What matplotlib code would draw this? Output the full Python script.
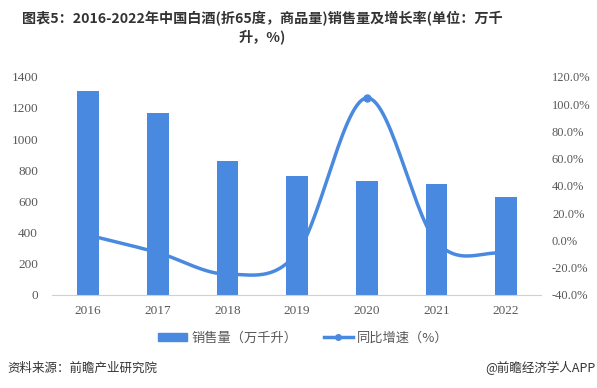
import numpy as np
import matplotlib
matplotlib.use('Agg')
import matplotlib.pyplot as plt
from matplotlib.lines import Line2D
from matplotlib.patches import Patch

plt.rcParams['font.family'] = ['Noto Sans CJK SC', 'DejaVu Sans']

years = ['2016', '2017', '2018', '2019', '2020', '2021', '2022']
sales = [1309, 1168, 860, 763, 731, 710, 628]
growth = [3.9, -9.0, -24.8, -9.0, 104.5, -1.0, -9.6]

blue = '#4a89e0'
grey = '#595959'


def smooth(x, y, n=30):
    # Catmull-Rom curve through the points, like Excel's smoothed line
    x = np.asarray(x, float)
    y = np.asarray(y, float)
    px = np.concatenate([[2 * x[0] - x[1]], x, [2 * x[-1] - x[-2]]])
    py = np.concatenate([[2 * y[0] - y[1]], y, [2 * y[-1] - y[-2]]])
    xs, ys = [], []
    t = np.linspace(0, 1, n)
    for i in range(1, len(px) - 2):
        for p, out in ((px, xs), (py, ys)):
            p0, p1, p2, p3 = p[i - 1], p[i], p[i + 1], p[i + 2]
            out.extend(0.5 * (2 * p1 + (-p0 + p2) * t
                              + (2 * p0 - 5 * p1 + 4 * p2 - p3) * t ** 2
                              + (-p0 + 3 * p1 - 3 * p2 + p3) * t ** 3))
    return np.array(xs), np.array(ys)


fig = plt.figure(figsize=(5.97, 3.88), dpi=100)
ax = fig.add_axes([0.087, 0.240, 0.819, 0.562])
ax2 = ax.twinx()

x = np.arange(len(years))
ax.bar(x, sales, width=0.31, color=blue, zorder=2)
ax.set_ylim(0, 1400)
ax.set_yticks(range(0, 1401, 200))
ax.set_xlim(-0.52, 6.5)
ax.set_xticks(x)
ax.set_xticklabels(years)

sx, sy = smooth(x, growth)
ax2.plot(sx, sy, color=blue, lw=2.5, solid_capstyle='round', zorder=3)
ax2.plot(x, growth, 'o', color=blue, ms=5, zorder=4)
ax2.set_ylim(-40, 120)
ax2.set_yticks(range(-40, 121, 20))
ax2.set_yticklabels([f'{v:.1f}%' for v in range(-40, 121, 20)])

for a in (ax, ax2):
    for s in a.spines.values():
        s.set_visible(False)
    a.tick_params(length=0, colors=grey)
    for lab in a.get_yticklabels() + a.get_xticklabels():
        lab.set_fontfamily('Liberation Serif')
        lab.set_fontsize(9.5)
for lab in ax2.get_yticklabels():
    lab.set_fontsize(9)
ax.spines['bottom'].set_visible(True)
ax.spines['bottom'].set_color('#d0d0d0')
ax.tick_params(axis='y', pad=10)
ax.tick_params(axis='x', pad=7)
ax2.tick_params(axis='y', pad=8)

fig.text(0.439, 0.952, '图表5：2016-2022年中国白酒(折65度，商品量)销售量及增长率(单位：万千',
         ha='center', va='center', fontsize=10.2, fontweight='bold', color='#333333')
fig.text(0.439, 0.905, '升，%)', ha='center', va='center', fontsize=10.2,
         fontweight='bold', color='#333333')

handles = [Patch(color=blue),
           Line2D([0], [0], color=blue, lw=2.5, marker='o', ms=4)]
fig.legend(handles, ['销售量（万千升）', '同比增速（%）'], loc='center',
           bbox_to_anchor=(0.508, 0.129), ncol=2, frameon=False, fontsize=9.5,
           handlelength=2.2, handleheight=0.5, handletextpad=0.3,
           columnspacing=2.0, labelcolor=grey)

fig.text(0.012, 0.052, '资料来源：前瞻产业研究院', ha='left', va='center',
         fontsize=9, color='#333333')
fig.text(0.998, 0.052, '@前瞻经济学人APP', ha='right', va='center',
         fontsize=9, color='#333333')

fig.savefig('out.png', dpi=100)
